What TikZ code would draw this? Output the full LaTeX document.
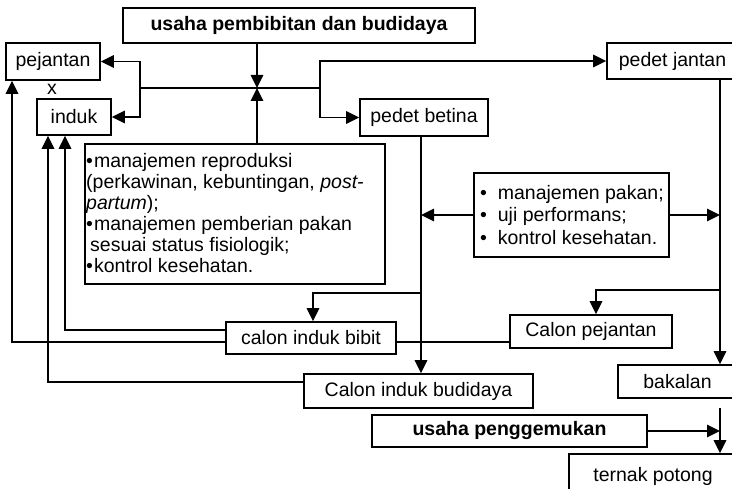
\documentclass[tikz,border=0pt]{standalone}
\usepackage{fontspec}
\setmainfont{Liberation Sans}
\usetikzlibrary{arrows.meta}
\begin{document}
\begin{tikzpicture}[x=1pt,y=-1pt,
  every node/.style={font=\fontsize{19.5}{21}\selectfont},
  box/.style={draw, line width=1.6pt, inner sep=0pt, fill=white},
  ln/.style={line width=1.7pt},
  arr/.style={line width=1.7pt, -{Triangle[length=13pt,width=12.5pt]}}]
\useasboundingbox (0,0) rectangle (732,489);
% boxes
\node[box, minimum width=352, minimum height=35] (top) at (299,25.5) {\bfseries usaha pembibitan dan budidaya};
\node[box, minimum width=94, minimum height=37] (pej) at (53,61.5) {pejantan};
\node (x) at (52,89) {x};
\node[box, minimum width=74, minimum height=36] (induk) at (74,117) {induk};
\node[box, minimum width=128, minimum height=37] (pb) at (424,117.5) {pedet betina};
\node[box, minimum width=131, minimum height=36] (pj) at (672.5,61) {pedet jantan};
\node[box, minimum width=300, minimum height=140] (mL) at (235,214) {};
\node[anchor=north west, inner sep=0pt, align=left] (mLt) at (86,153)
 {\textbullet\hspace{1pt}manajemen reproduksi\\
  (perkawinan, kebuntingan, \textit{post-}\\
  \textit{partum});\\
  \textbullet\hspace{1pt}manajemen pemberian pakan\\
  \hspace{4pt}sesuai status fisiologik;\\
  \textbullet\hspace{1pt}kontrol kesehatan.};
\node[box, minimum width=195, minimum height=84] (mR) at (571.5,215) {};
\node[anchor=west, inner sep=0pt, align=left, font=\fontsize{19.5}{22.5}\selectfont] (mRt) at (480,215)
 {\textbullet\ \ manajemen pakan;\\
  \textbullet\ \ uji performans;\\
  \textbullet\ \ kontrol kesehatan.};
\node[box, minimum width=170, minimum height=32] (cibb) at (311,338) {calon induk bibit};
\node[box, minimum width=162, minimum height=33] (cp) at (591,331.5) {Calon pejantan};
\node[box, minimum width=229, minimum height=34] (cbud) at (418.5,391) {Calon induk budidaya};
\node[box, minimum width=119, minimum height=33] (bak) at (677.5,381.5) {bakalan};
\node[box, minimum width=275, minimum height=32] (upg) at (509.5,431) {\bfseries usaha penggemukan};
\node[box, minimum width=168, minimum height=40, text depth=0pt] (tp) at (653,474) {ternak potong};
% coordinates
\coordinate (jn) at (257,88);
\coordinate (jl) at (140,88);
\coordinate (jr) at (320,88);
\coordinate (b1) at (421,293);
\coordinate (b2) at (313,293);
\coordinate (r1) at (720,290);
\coordinate (r2) at (596,290);
\coordinate (l1) at (65,330);
\coordinate (l2) at (12,342);
\coordinate (l3) at (48,382);
% connectors
\draw[arr] (top.south -| jn) -- (jn);
\draw[arr] (mL.north -| jn) -- (jn);
\draw[ln] (jl) -- (jr);
\draw[arr] (jl) |- (pej.east);
\draw[arr] (jl) |- (induk.east);
\draw[arr] (jr) |- (pj.west);
\draw[arr] (jr) |- (pb.west);
\draw[arr] (pb.south -| b1) -- (cbud.north -| b1);
\draw[arr] (b1) -- (b2) -- (cibb.north -| b2);
\draw[arr] (mR.west) -- (mR.west -| b1);
\draw[arr] (mR.east) -- (mR.east -| r1);
\draw[arr] (pj.south -| r1) -- (bak.north -| r1);
\draw[arr] (r1) -- (r2) -- (cp.north -| r2);
\draw[arr] (cibb.west |- l1) -- (l1) -- (induk.south -| l1);
\draw[ln] (cp.west |- l2) -- (cibb.east |- l2);
\draw[arr] (cibb.west |- l2) -- (l2) -- (pej.south -| l2);
\draw[arr] (cbud.west |- l3) -- (l3) -- (induk.south -| l3);
\draw[arr] ([yshift=-9pt]bak.south -| r1) -- (tp.north -| r1);
\draw[arr] (upg.east) -- (upg.east -| r1);
\end{tikzpicture}
\end{document}
